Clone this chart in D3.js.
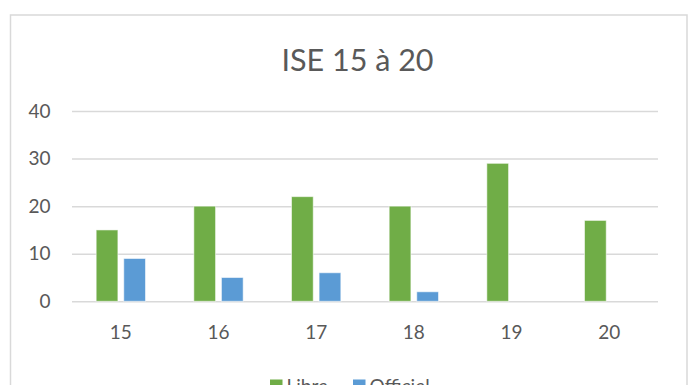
<!DOCTYPE html>
<html>
<head>
<meta charset="utf-8">
<script src="https://cdn.jsdelivr.net/npm/d3@7"></script>
<style>
  html, body { margin: 0; padding: 0; background: #fff; }
  svg { display: block; }
  text { font-family: Lato, "Open Sans", sans-serif; fill: #595959; }
</style>
</head>
<body>
<svg id="chart" width="696" height="385"></svg>
<script>
const categories = ["15", "16", "17", "18", "19", "20"];
const seriesNames = ["Libre", "Officiel"];
const libreValues = [15, 20, 22, 20, 29, 17];
const officielValues = [9, 5, 6, 2, 0, 0];
const yTicks = [0, 10, 20, 30, 40];
const title = "ISE 15 à 20";
const colors = ["#70AD47", "#5B9BD5"];

const svg = d3.select("#chart");

// chart frame
svg.append("rect")
  .attr("x", 10.5).attr("y", 15).attr("width", 676.5).attr("height", 400)
  .attr("fill", "#fff").attr("stroke", "#d9d9d9").attr("stroke-width", 1.5);

// title
svg.append("text")
  .attr("x", 357.5).attr("y", 70.5)
  .attr("text-anchor", "middle")
  .attr("font-size", 30.5)
  .text(title);

const x0 = d3.scaleBand().domain(categories).range([72, 658]).paddingInner(0.495).paddingOuter(0.2475);
const x1 = d3.scaleBand().domain(seriesNames).range([0, x0.bandwidth()]).paddingInner(0.213).paddingOuter(0);
const y = d3.scaleLinear().domain([0, 40]).range([301.3, 111]);

// gridlines + y labels
const yAxis = d3.axisLeft(y).tickValues(yTicks).tickSize(-(658 - 72)).tickPadding(21).tickFormat(d3.format("d"));
const gy = svg.append("g").attr("transform", "translate(72,0)").call(yAxis);
gy.select(".domain").remove();
gy.selectAll(".tick line").attr("stroke", "#d9d9d9").attr("stroke-width", 1.5);
gy.selectAll(".tick text").attr("font-size", 19).attr("fill", "#595959").attr("x", -21.5);

// bars
const data = categories.map((c, i) => ({ cat: c, vals: [
  { s: "Libre", v: libreValues[i] },
  { s: "Officiel", v: officielValues[i] }
]}));

const groups = svg.append("g").selectAll("g").data(data).join("g")
  .attr("transform", d => `translate(${x0(d.cat)},0)`);

groups.selectAll("rect").data(d => d.vals.filter(o => o.v > 0)).join("rect")
  .attr("x", d => x1(d.s))
  .attr("y", d => y(d.v))
  .attr("width", x1.bandwidth())
  .attr("height", d => y(0) - y(d.v))
  .attr("fill", d => colors[seriesNames.indexOf(d.s)])
  .attr("stroke", "#ffffff").attr("stroke-opacity", 0.55).attr("stroke-width", 1);

// x axis labels
const xAxis = d3.axisBottom(x0).tickSize(0).tickPadding(0);
const gx = svg.append("g").attr("transform", "translate(0,301.3)").call(xAxis);
gx.select(".domain").remove();
gx.selectAll(".tick text").attr("font-size", 19).attr("fill", "#595959").attr("dy", 0).attr("y", 38);

// legend
const legend = svg.append("g");
const legendX = [270, 353];
seriesNames.forEach((s, i) => {
  legend.append("rect").attr("x", legendX[i]).attr("y", 379.5).attr("width", 12.5).attr("height", 12.5).attr("fill", colors[i]);
  legend.append("text").attr("x", legendX[i] + 16.5).attr("y", 393).attr("font-size", 19).text(s);
});
</script>
</body>
</html>
